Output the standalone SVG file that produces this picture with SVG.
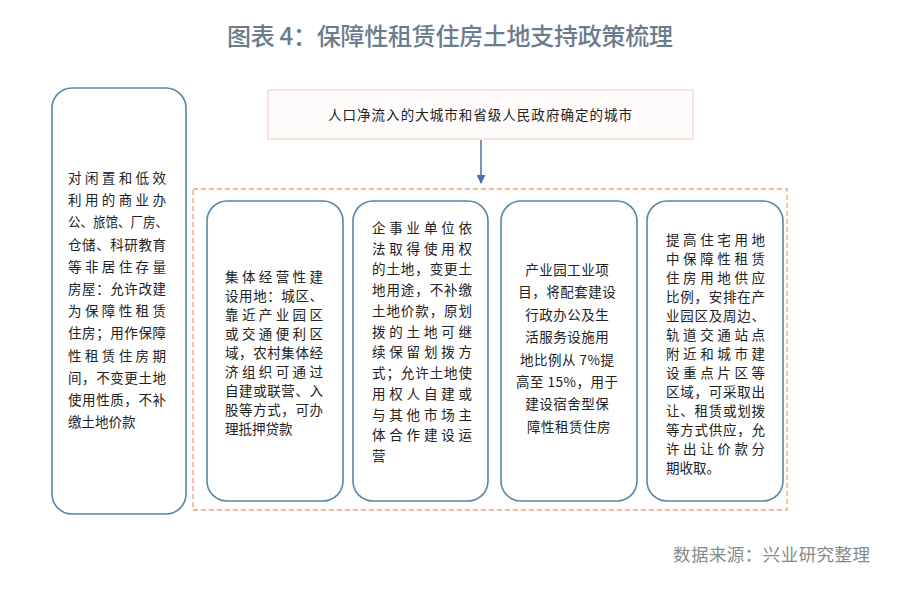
<svg xmlns="http://www.w3.org/2000/svg" width="900" height="592" viewBox="0 0 900 592">
<style>
.box{fill:#ffffff;stroke:#5487ab;stroke-width:1.6}
.t{font-family:"Noto Sans CJK SC","Noto Sans",sans-serif;font-size:13.5px;fill:#222}
.c{text-anchor:middle}
</style>
<defs>
<marker id="ah" viewBox="0 0 10 10" refX="9" refY="5" markerWidth="9" markerHeight="9" markerUnits="userSpaceOnUse" orient="auto"><path d="M0,0 L10,5 L0,10 z" fill="#4f6fa6"/></marker>
</defs>
<rect width="900" height="592" fill="#ffffff"/>
<text x="450" y="45" text-anchor="middle" font-family="'Noto Sans CJK SC','Noto Sans',sans-serif" font-size="24" font-weight="500" fill="#6b7c8e" textLength="446" lengthAdjust="spacing">图表 4：保障性租赁住房土地支持政策梳理</text>

<g id="top">
<rect x="268" y="90" width="425" height="49" fill="#fffcfb" stroke="#f4d2ca" stroke-width="1.2"/>
<text class="t" x="328" y="120" font-size="14" textLength="304" lengthAdjust="spacing">人口净流入的大城市和省级人民政府确定的城市</text>
</g>

<g id="connectors">
<line x1="481" y1="140" x2="481" y2="183" stroke="#4f6fa6" stroke-width="1.5" marker-end="url(#ah)"/>
</g>

<g id="group">
<rect x="193" y="189" width="594" height="321" fill="none" stroke="#eaa47c" stroke-width="1.3" stroke-dasharray="5,3"/>
</g>

<g id="left">
<rect class="box" x="52" y="88" width="134" height="426" rx="20"/>
<text class="t" font-size="14">
<tspan x="68" y="183" textLength="98" lengthAdjust="spacing">对闲置和低效</tspan>
<tspan x="68" y="205" textLength="98" lengthAdjust="spacing">利用的商业办</tspan>
<tspan x="68" y="227" textLength="100" lengthAdjust="spacingAndGlyphs">公、旅馆、厂房、</tspan>
<tspan x="68" y="250" textLength="98" lengthAdjust="spacing">仓储、科研教育</tspan>
<tspan x="68" y="272" textLength="98" lengthAdjust="spacing">等非居住存量</tspan>
<tspan x="68" y="294" textLength="98" lengthAdjust="spacing">房屋：允许改建</tspan>
<tspan x="68" y="316" textLength="98" lengthAdjust="spacing">为保障性租赁</tspan>
<tspan x="68" y="338" textLength="98" lengthAdjust="spacing">住房；用作保障</tspan>
<tspan x="68" y="361" textLength="98" lengthAdjust="spacing">性租赁住房期</tspan>
<tspan x="68" y="383" textLength="98" lengthAdjust="spacing">间，不变更土地</tspan>
<tspan x="68" y="405" textLength="98" lengthAdjust="spacing">使用性质，不补</tspan>
<tspan x="68" y="427">缴土地价款</tspan>
</text>
</g>

<g id="box1">
<rect class="box" x="207" y="201" width="136" height="300" rx="20"/>
<text class="t">
<tspan x="225" y="282" textLength="98" lengthAdjust="spacing">集体经营性建</tspan>
<tspan x="225" y="301" textLength="98" lengthAdjust="spacing">设用地：城区、</tspan>
<tspan x="225" y="320" textLength="98" lengthAdjust="spacing">靠近产业园区</tspan>
<tspan x="225" y="339" textLength="98" lengthAdjust="spacing">或交通便利区</tspan>
<tspan x="225" y="358" textLength="98" lengthAdjust="spacing">域，农村集体经</tspan>
<tspan x="225" y="377" textLength="98" lengthAdjust="spacing">济组织可通过</tspan>
<tspan x="225" y="396" textLength="98" lengthAdjust="spacing">自建或联营、入</tspan>
<tspan x="225" y="415" textLength="98" lengthAdjust="spacing">股等方式，可办</tspan>
<tspan x="225" y="434">理抵押贷款</tspan>
</text>
</g>

<g id="box2">
<rect class="box" x="353" y="201" width="135" height="300" rx="20"/>
<text class="t">
<tspan x="372" y="233" textLength="100" lengthAdjust="spacing">企事业单位依</tspan>
<tspan x="372" y="254" textLength="100" lengthAdjust="spacing">法取得使用权</tspan>
<tspan x="372" y="274" textLength="100" lengthAdjust="spacing">的土地，变更土</tspan>
<tspan x="372" y="295" textLength="100" lengthAdjust="spacing">地用途，不补缴</tspan>
<tspan x="372" y="316" textLength="100" lengthAdjust="spacing">土地价款，原划</tspan>
<tspan x="372" y="337" textLength="100" lengthAdjust="spacing">拨的土地可继</tspan>
<tspan x="372" y="357" textLength="100" lengthAdjust="spacing">续保留划拨方</tspan>
<tspan x="372" y="378" textLength="100" lengthAdjust="spacing">式；允许土地使</tspan>
<tspan x="372" y="399" textLength="100" lengthAdjust="spacing">用权人自建或</tspan>
<tspan x="372" y="420" textLength="100" lengthAdjust="spacing">与其他市场主</tspan>
<tspan x="372" y="440" textLength="100" lengthAdjust="spacing">体合作建设运</tspan>
<tspan x="372" y="461">营</tspan>
</text>
</g>

<g id="box3">
<rect class="box" x="501" y="201" width="136" height="300" rx="20"/>
<text class="t c" letter-spacing="0.5">
<tspan x="569" y="275">产业园工业项</tspan>
<tspan x="569" y="297">目，将配套建设</tspan>
<tspan x="569" y="320">行政办公及生</tspan>
<tspan x="569" y="342">活服务设施用</tspan>
<tspan x="569" y="365">地比例从 7%提</tspan>
<tspan x="569" y="387">高至 15%，用于</tspan>
<tspan x="569" y="409">建设宿舍型保</tspan>
<tspan x="569" y="432">障性租赁住房</tspan>
</text>
</g>

<g id="box4">
<rect class="box" x="647" y="201" width="136" height="300" rx="20"/>
<text class="t">
<tspan x="666" y="245" textLength="99" lengthAdjust="spacing">提高住宅用地</tspan>
<tspan x="666" y="264" textLength="99" lengthAdjust="spacing">中保障性租赁</tspan>
<tspan x="666" y="283" textLength="99" lengthAdjust="spacing">住房用地供应</tspan>
<tspan x="666" y="302" textLength="99" lengthAdjust="spacing">比例，安排在产</tspan>
<tspan x="666" y="321" textLength="99" lengthAdjust="spacing">业园区及周边、</tspan>
<tspan x="666" y="340" textLength="99" lengthAdjust="spacing">轨道交通站点</tspan>
<tspan x="666" y="359" textLength="99" lengthAdjust="spacing">附近和城市建</tspan>
<tspan x="666" y="378" textLength="99" lengthAdjust="spacing">设重点片区等</tspan>
<tspan x="666" y="397" textLength="99" lengthAdjust="spacing">区域，可采取出</tspan>
<tspan x="666" y="416" textLength="99" lengthAdjust="spacing">让、租赁或划拨</tspan>
<tspan x="666" y="435" textLength="99" lengthAdjust="spacing">等方式供应，允</tspan>
<tspan x="666" y="454" textLength="99" lengthAdjust="spacing">许出让价款分</tspan>
<tspan x="666" y="473">期收取。</tspan>
</text>
</g>

<text x="673" y="561" font-family="'Noto Sans CJK SC','Noto Sans',sans-serif" font-size="17.5" fill="#8a8a8a" textLength="197" lengthAdjust="spacing">数据来源：兴业研究整理</text>
</svg>
